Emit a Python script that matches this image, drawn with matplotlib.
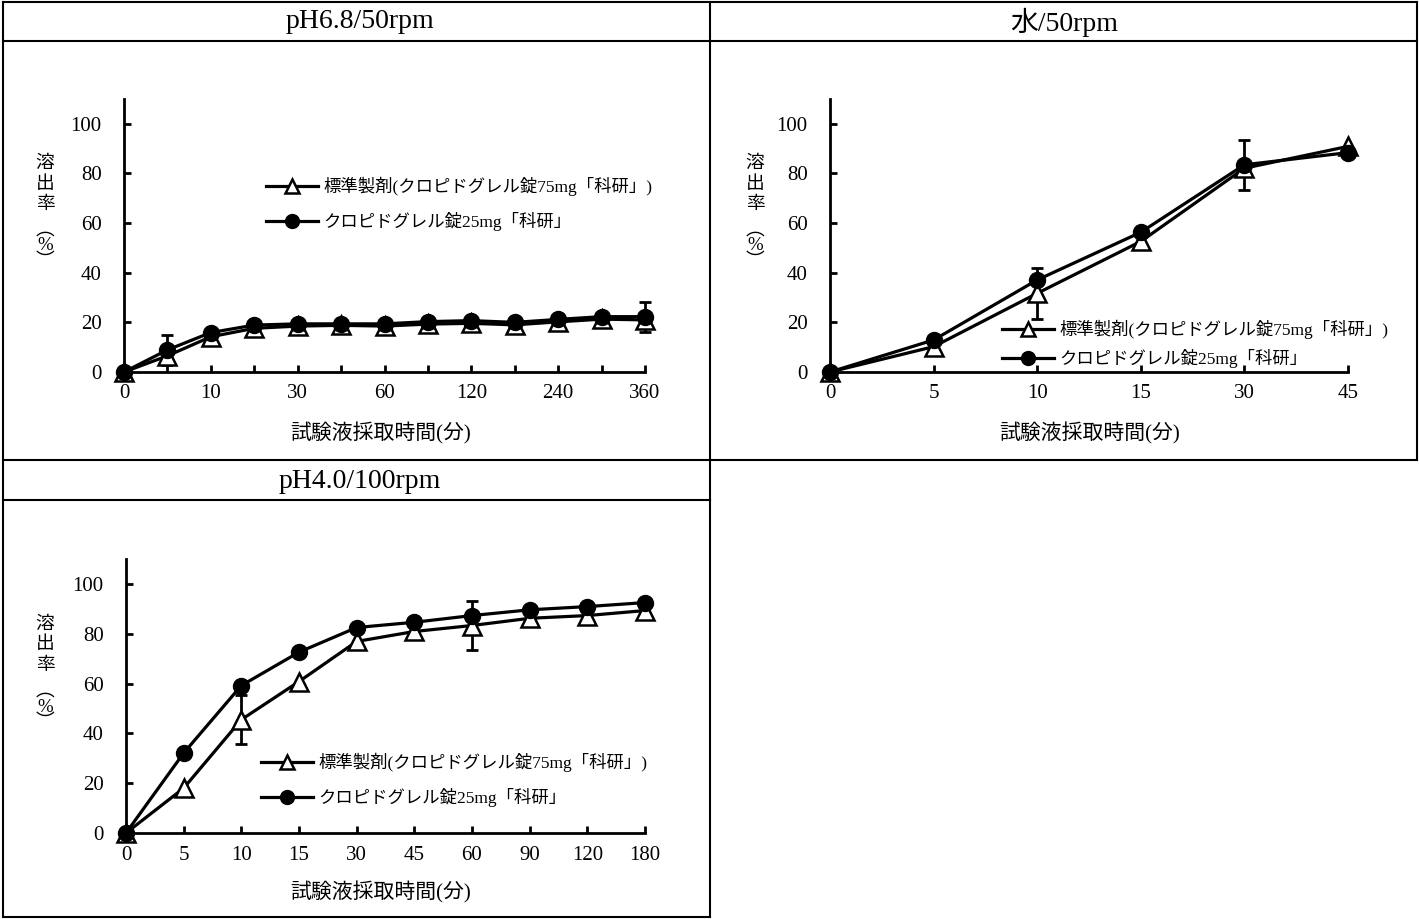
import numpy as np
import matplotlib
matplotlib.use('Agg')
import matplotlib.pyplot as plt
from matplotlib.lines import Line2D

plt.rcParams['font.family'] = ['Liberation Serif', 'Noto Sans CJK JP']

W, H = 1419, 919

# pH6.8/50rpm
p1_times = ['0', '5', '10', '15', '30', '45', '60', '90', '120', '180', '240', '300', '360']
p1_std = [0, 6.5, 14.2, 17.6, 18.5, 18.8, 18.5, 19.3, 19.6, 19.0, 20.2, 21.3, 21.0]
p1_test = [0, 8.9, 15.9, 18.9, 19.4, 19.4, 19.4, 20.3, 20.7, 20.0, 21.2, 22.3, 22.3]
p1_std_sd = [0] * 13
p1_test_sd = [0, 6, 0, 0, 0, 0, 0, 0, 0, 0, 0, 0, 6]

# 水/50rpm
p2_times = ['0', '5', '10', '15', '30', '45']
p2_std = [0, 10.2, 31.7, 52.6, 82.1, 90.9]
p2_test = [0, 12.9, 37.1, 56.3, 83.5, 88.4]
p2_std_sd = [0, 0, 10.2, 0, 0, 0]
p2_test_sd = [0, 0, 0, 0, 10, 0]

# pH4.0/100rpm
p3_times = ['0', '5', '10', '15', '30', '45', '60', '90', '120', '180']
p3_std = [0, 18.0, 45.5, 60.8, 76.9, 80.9, 83.3, 86.2, 87.3, 89.3]
p3_test = [0, 32.1, 59.2, 72.6, 82.5, 84.6, 87.3, 89.6, 90.9, 92.5]
p3_std_sd = [0, 0, 9.8, 0, 0, 0, 10, 0, 0, 0]
p3_test_sd = [0] * 10

titles = ['pH6.8/50rpm', '水/50rpm', 'pH4.0/100rpm']
label_std = '標準製剤(クロピドグレル錠75mg「科研」)'
label_test = 'クロピドグレル錠25mg「科研」'
ylabel_top = '溶\n出\n率'
ylabel_unit = '︵\n%\n︶'
xlabel = '試験液採取時間(分)'

fig = plt.figure(figsize=(W / 100, H / 100), dpi=100)


def fx(x):
    return x / W


def fy(y):
    return 1 - y / H


def px_axes(x0, x1, y_top, y_bot):
    return fig.add_axes([fx(x0), fy(y_bot), (x1 - x0) / W, (y_bot - y_top) / H])


def draw_panel(ax, times, std, test, std_sd, test_sd, every, leg_x, leg_y, leg_sp):
    x = np.arange(len(times))
    for series, sd in ((std, std_sd), (test, test_sd)):
        idx = [i for i, e in enumerate(sd) if e]
        if idx:
            ax.errorbar(idx, [series[i] for i in idx], yerr=[sd[i] for i in idx],
                        fmt='none', ecolor='black', elinewidth=2, capsize=4.5,
                        capthick=2, clip_on=False, zorder=2)
    ax.plot(x, std, '-', color='black', lw=2.3, marker='^', ms=12.5, mfc='white',
            mec='black', mew=1.8, clip_on=False, zorder=3)
    ax.plot(x, test, '-', color='black', lw=2.3, marker='o', ms=11.5, mfc='black',
            mec='black', clip_on=False, zorder=4)

    ax.set_xlim(0, len(times) - 1)
    ax.set_ylim(0, 110)
    ax.set_xticks(x)
    ax.set_xticklabels([t if i % every == 0 else '' for i, t in enumerate(times)])
    ax.set_yticks(range(0, 101, 20))
    for s in ('top', 'right'):
        ax.spines[s].set_visible(False)
    for s in ('left', 'bottom'):
        ax.spines[s].set_linewidth(2)
    ax.tick_params(axis='both', direction='in', length=5, width=2, labelsize=15)
    ax.tick_params(axis='y', pad=16)
    ax.tick_params(axis='x', pad=9)

    handles = [Line2D([], [], color='black', lw=2.3, marker='^', ms=10, mfc='white',
                      mec='black', mew=1.8),
               Line2D([], [], color='black', lw=2.3, marker='o', ms=10, mfc='black')]
    ax.legend(handles, [label_std, label_test], loc='center left',
              bbox_to_anchor=(fx(leg_x), fy(leg_y)), bbox_transform=fig.transFigure,
              frameon=False, fontsize=12.5, handlelength=3.0, handletextpad=0.3,
              labelspacing=leg_sp, borderpad=0, borderaxespad=0)


ax1 = px_axes(124, 645, 99, 372)
draw_panel(ax1, p1_times, p1_std, p1_test, p1_std_sd, p1_test_sd, 2, 266, 204, 0.9)
ax2 = px_axes(830, 1348, 99, 372)
draw_panel(ax2, p2_times, p2_std, p2_test, p2_std_sd, p2_test_sd, 1, 1002, 344, 0.56)
ax3 = px_axes(126, 645, 559, 833)
draw_panel(ax3, p3_times, p3_std, p3_test, p3_std_sd, p3_test_sd, 1, 261, 780, 0.95)

# titles
fig.text(fx(360), fy(22), titles[0], ha='center', va='center', fontsize=20)
fig.text(fx(1064), fy(22), titles[1], ha='center', va='center', fontsize=20)
fig.text(fx(360), fy(481), titles[2], ha='center', va='center', fontsize=20)

# vertical y label: characters stacked, unit part set tighter
for cx, top in ((45, 0), (755, 0), (45, 461)):
    fig.text(fx(cx), fy(184 + top), ylabel_top, ha='center', va='center',
             fontsize=13.5, linespacing=1.3)
    fig.text(fx(cx), fy(246 + top), ylabel_unit, ha='center', va='center',
             fontsize=13.5, linespacing=0.9)

for cx, cy in ((381, 433), (1090, 433), (381, 892)):
    fig.text(fx(cx), fy(cy), xlabel, ha='center', va='center', fontsize=15)

# table borders
segments = [
    ((3, 2), (1417, 2)), ((3, 41), (1417, 41)), ((3, 460), (1417, 460)),
    ((3, 500), (710, 500)), ((3, 917), (710, 917)),
    ((3, 2), (3, 917)), ((710, 2), (710, 917)), ((1417, 2), (1417, 460)),
]
for (x0, y0), (x1, y1) in segments:
    fig.add_artist(Line2D([fx(x0), fx(x1)], [fy(y0), fy(y1)], transform=fig.transFigure,
                          color='black', lw=1.5))

fig.savefig('out.png', dpi=100)
